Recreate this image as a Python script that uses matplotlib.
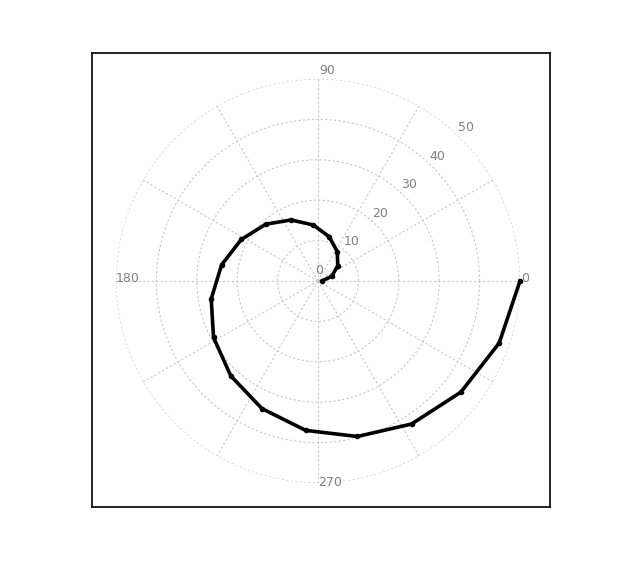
import matplotlib
matplotlib.use("Agg")
import matplotlib.pyplot as plt
import matplotlib.transforms as mtransforms
import numpy as np

# Spiral data (angle in degrees, radius)
theta_deg = [0, 18.9, 37.9, 56.8, 75.8, 94.7, 113.7, 132.6, 151.6, 170.5,
             189.5, 208.4, 227.4, 246.3, 265.3, 284.2, 303.2, 322.1, 341.1, 360]
radius = [1, 3.6, 6.2, 8.7, 11.3, 13.9, 16.5, 19.1, 21.6, 24.2,
          26.8, 29.4, 31.9, 34.5, 37.1, 39.7, 42.3, 44.8, 47.4, 50]

r_ticks = [0, 10, 20, 30, 40, 50]
angle_ticks = [0, 90, 180, 270]
grid_color = '#c8c8c8'
label_color = '#808080'

fig = plt.figure(figsize=(6.41, 5.72), dpi=100)

# Square frame drawn around the polar plot
frame_ax = fig.add_axes([91.5 / 641, 65.5 / 572, 458.5 / 641, 454 / 572])
frame_ax.set_xticks([])
frame_ax.set_yticks([])
for s in frame_ax.spines.values():
    s.set_linewidth(1.2)
    s.set_color('black')

# Polar axes
cx, cy, rad = 318, 281, 202
ax = fig.add_axes([(cx - rad) / 641, (572 - cy - rad) / 572, 2 * rad / 641, 2 * rad / 572],
                  projection='polar')
ax.patch.set_alpha(0)
ax.spines['polar'].set_visible(False)
ax.set_ylim(0, 50)
ax.set_xticks(np.deg2rad(np.arange(0, 360, 30)))
ax.set_yticks(r_ticks[1:])
ax.set_xticklabels([])
ax.set_yticklabels([])
ax.grid(True, color=grid_color, linestyle=(0, (2, 2)), linewidth=0.8)

ax.plot(np.deg2rad(theta_deg), radius, color='black', linewidth=2.6,
        marker='o', markersize=3, zorder=5, clip_on=False)

# Radial labels along the 45 degree direction
off = mtransforms.offset_copy(ax.transData, fig=fig, x=-3, y=4, units='dots')
for r in r_ticks:
    ax.text(np.deg2rad(45), r, str(r), transform=off, ha='left', va='bottom',
            fontsize=9, color=label_color)

# Angle labels
ang_off = {0: (1, 3, 'left', 'center'), 90: (1, 2, 'left', 'bottom'),
           180: (0, 3, 'left', 'center'), 270: (0, 0, 'left', 'center')}
for a in angle_ticks:
    dx, dy, ha, va = ang_off[a]
    t = mtransforms.offset_copy(ax.transData, fig=fig, x=dx, y=dy, units='dots')
    ax.text(np.deg2rad(a), 50, str(a), transform=t, ha=ha, va=va,
            fontsize=9, color=label_color, clip_on=False)

fig.savefig('out.png', dpi=100)
